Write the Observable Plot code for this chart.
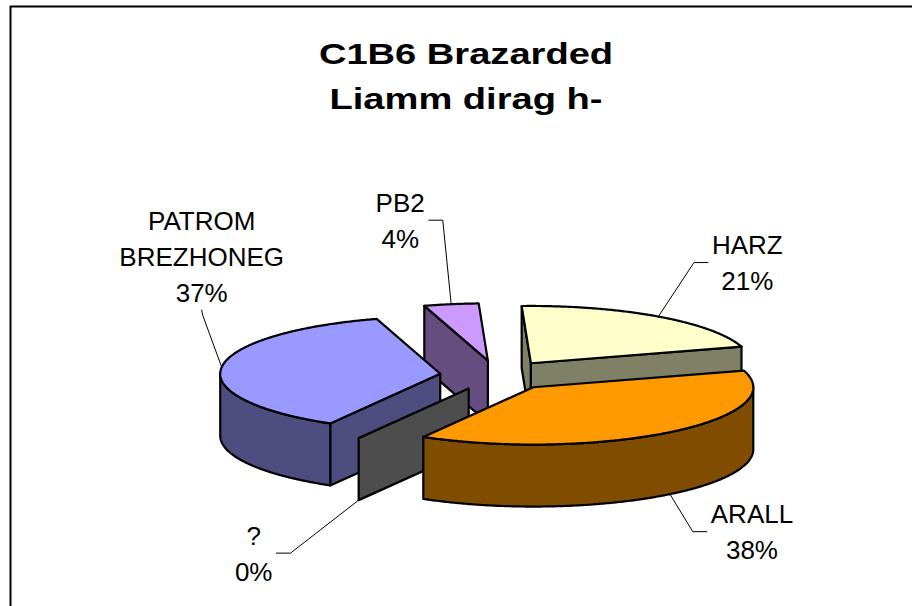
<!DOCTYPE html>
<html>
<head>
<meta charset="utf-8">
<script src="https://cdn.jsdelivr.net/npm/d3@7"></script>
<script src="https://cdn.jsdelivr.net/npm/@observablehq/plot@0.6"></script>
<style>
  html, body { margin: 0; padding: 0; background: #fff; overflow: hidden; }
</style>
</head>
<body>
<div id="chart"></div>
<script>
// ---------- data ----------
const categories = ["PATROM BREZHONEG", "PB2", "HARZ", "ARALL", "?"];
const labelNames = ["PATROM\nBREZHONEG", "PB2", "HARZ", "ARALL", "?"];
const values = [37, 4, 21, 38, 0];
const titleLines = ["C1B6 Brazarded", "Liamm dirag h-"];

// ---------- palette ----------
const topColors  = ["#9999FF", "#CC99FF", "#FFFFCC", "#FF9900", "#999999"];
const wallColors = ["#4D4D80", "#664D80", "#808066", "#804D00", "#4D4D4D"];

// ---------- layout ----------
const W = 912, H = 606;
const pie = {cx: 497, cy: 375, rx: 220, ry: 57.3, depth: 62, explode: 0.262, start: 210};
const fontSize = 26, lineH = 1.38;
const fontFamily = "'Liberation Sans', Arial, Helvetica, sans-serif";
// label placement relative to each slice's leader anchor, and which label edge the leader meets
const labelOffsets = [
  {dx: -20, dy: -113, attach: "bottom"},
  {dx: -51, dy: -86, attach: "right"},
  {dx: 89, dy: -56, attach: "left"},
  {dx: 82, dy: 35.5, attach: "left"},
  {dx: -105, dy: 51, attach: "right"}
];
const titleLayout = {x: 465.5, y: 72, size: 30, lineHeight: 1.5, stretch: 1.27};

// ---------- geometry ----------
const rad = d => d * Math.PI / 180;
const total = d3.sum(values);
let acc = pie.start;
const slices = values.map((v, i) => {
  const a0 = acc, a1 = acc + v / total * 360;
  acc = a1;
  const mid = (a0 + a1) / 2;
  return {
    i, v, a0, a1, mid,
    px: pie.cx + pie.explode * pie.rx * Math.sin(rad(mid)),
    py: pie.cy - pie.explode * pie.ry * Math.cos(rad(mid))
  };
});
const pt = (s, a, dz = 0) => ({x: s.px + pie.rx * Math.sin(rad(a)), y: s.py - pie.ry * Math.cos(rad(a)) + dz});
const arc = (s, a, b, dz = 0) => {
  const n = Math.max(1, Math.ceil(Math.abs(b - a) / 0.5));
  return d3.range(n + 1).map(k => pt(s, a + (b - a) * k / n, dz));
};

function facesOf(s) {
  const F = [];
  const apex = {x: s.px, y: s.py}, apexB = {x: s.px, y: s.py + pie.depth};
  const radial = a => [apex, pt(s, a), pt(s, a, pie.depth), apexB];
  if (Math.cos(rad(s.a0 - 90)) < 0) F.push({pts: radial(s.a0), fill: wallColors[s.i]});
  if (s.a1 > s.a0 && Math.cos(rad(s.a1 + 90)) < 0) F.push({pts: radial(s.a1), fill: wallColors[s.i]});
  for (const k of [0, 360]) {
    const lo = Math.max(s.a0, 90 + k), hi = Math.min(s.a1, 270 + k);
    if (hi > lo) F.push({pts: [...arc(s, lo, hi), ...arc(s, hi, lo, pie.depth)], fill: wallColors[s.i]});
  }
  if (s.a1 > s.a0) F.push({pts: [apex, ...arc(s, s.a0, s.a1)], fill: topColors[s.i]});
  return F;
}
const frontY = s => d3.max([{y: s.py}, ...arc(s, s.a0, s.a1)], d => d.y);
const drawOrder = d3.sort(slices, frontY);
const faces = drawOrder.flatMap(facesOf);

// ---------- labels & leaders ----------
const ctx = document.createElement("canvas").getContext("2d");
ctx.font = `${fontSize}px ${fontFamily}`;
const anchorOf = s => Math.cos(rad(s.mid)) < 0 ? pt(s, s.mid, pie.depth) : pt(s, s.mid);
const labels = slices.map(s => {
  const a = anchorOf(s);
  const o = labelOffsets[s.i];
  const text = labelNames[s.i] + "\n" + Math.round(s.v / total * 100) + "%";
  const lines = text.split("\n");
  const w = d3.max(lines, l => ctx.measureText(l).width);
  const x = a.x + o.dx, y = a.y + o.dy;
  let end, elbow;
  if (o.attach === "bottom") {
    end = {x, y: y + (lines.length - 1) / 2 * lineH * fontSize + 0.35 * fontSize + 11};
    elbow = {x: x + 1, y: end.y + 5};
  } else if (o.attach === "left") {
    end = {x: x - w / 2 - 4, y: y + 2};
    elbow = {x: end.x - 14, y: y + 2};
  } else {
    end = {x: x + w / 2 + 4, y: y + 2};
    elbow = {x: end.x + 14, y: y + 2};
  }
  return {text, x, y, leader: [a, elbow, end]};
});

// ---------- plot ----------
const marks = [
  Plot.ruleX([10], {y1: 6, y2: H, stroke: "#000", strokeWidth: 2}),
  Plot.ruleY([6], {x1: 10, x2: W, stroke: "#000", strokeWidth: 2}),
  Plot.text([{t: titleLines.join("\n"), x: titleLayout.x, y: titleLayout.y}], {
    x: "x", y: "y", text: "t", fontSize: titleLayout.size, fontWeight: "bold",
    fontFamily, lineHeight: titleLayout.lineHeight, fill: "#000"
  }),
  ...faces.map(f => Plot.line(f.pts, {
    x: "x", y: "y", curve: "linear-closed", fill: f.fill, stroke: "#000",
    strokeWidth: 2.2, strokeLinejoin: "round"
  })),
  ...labels.map(l => Plot.line(l.leader, {x: "x", y: "y", stroke: "#000", strokeWidth: 1})),
  Plot.text(labels, {
    x: "x", y: "y", text: "text", fontSize, fontFamily, lineHeight: lineH, fill: "#000"
  })
];

const chart = Plot.plot({
  width: W, height: H,
  margin: 0,
  x: {domain: [0, W], range: [0, W], axis: null},
  y: {domain: [0, H], range: [0, H], axis: null},
  style: {background: "#fff", fontFamily},
  marks
});

// stretch the title horizontally (about its centre) to match the original's wide bold face
const svgNS = "http://www.w3.org/2000/svg";
chart.querySelectorAll("text").forEach(t => {
  if (t.textContent.includes(titleLines[0])) {
    const g = document.createElementNS(svgNS, "g");
    const cx = titleLayout.x;
    g.setAttribute("transform", `translate(${cx},0) scale(${titleLayout.stretch},1) translate(${-cx},0)`);
    t.parentNode.insertBefore(g, t);
    g.appendChild(t);
  }
});

document.getElementById("chart").appendChild(chart);
</script>
</body>
</html>
